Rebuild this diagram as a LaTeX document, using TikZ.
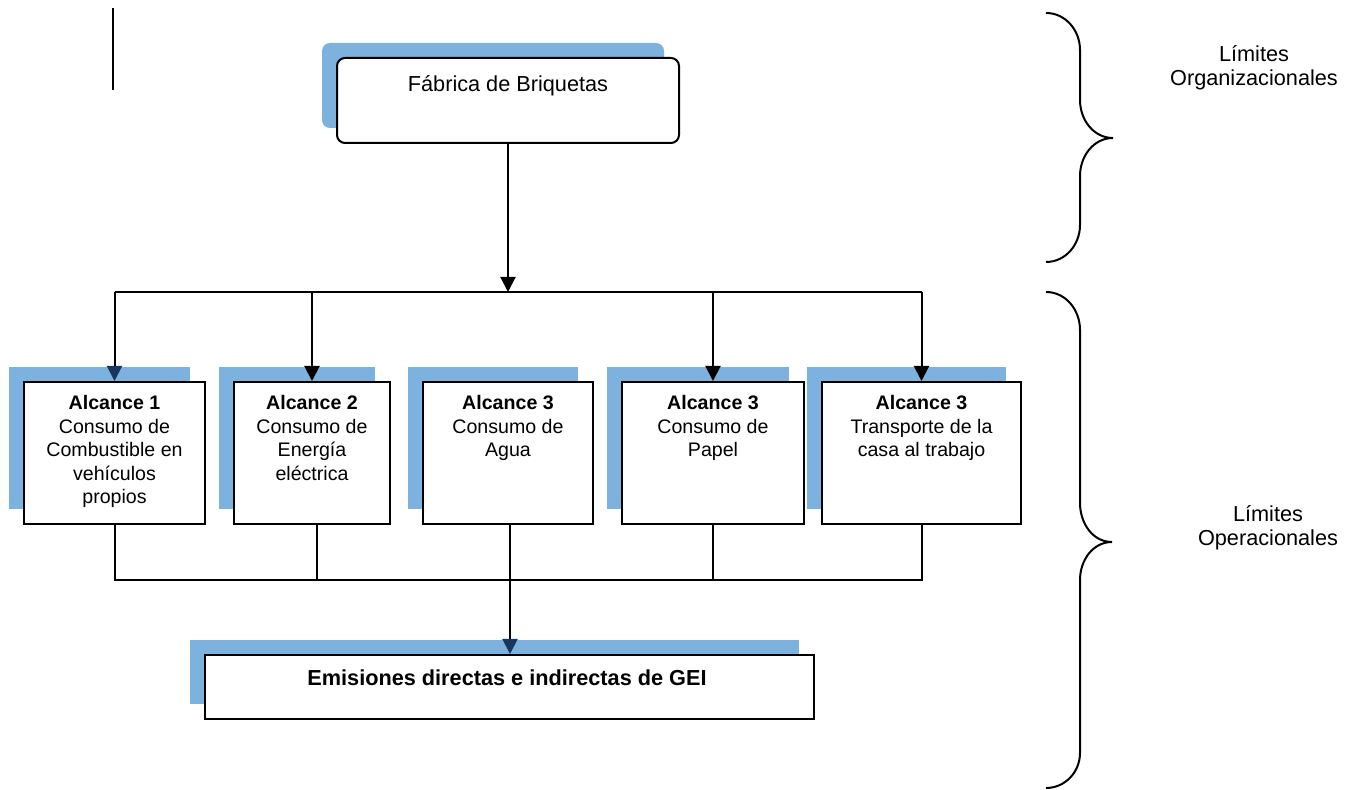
\documentclass[tikz,border=0pt]{standalone}
\usepackage{fontspec}
\setmainfont{Liberation Sans}
\usepackage{color}
\definecolor{shadowblue}{RGB}{125,178,222}
\definecolor{navyhead}{RGB}{23,55,94}
\usepackage{tikz}
\usetikzlibrary{positioning}
\usetikzlibrary{shadows}
\usetikzlibrary{arrows.meta}
\newcommand{\scopeheight}{71pt}
\newcommand{\bigfont}{\fontsize{10.85}{12}\selectfont}
\newcommand{\smallfont}{\fontsize{9.8}{11.75}\selectfont}
\tikzset{
    wire/.style={line width=1pt},
    flow/.style={wire, -{Triangle[length=7.5pt, width=7.5pt]}},
    navyflow/.style={wire, -{Triangle[length=7.5pt, width=7.5pt, color=navyhead]}},
    bluebox/.style={draw, rectangle, line width=1pt, fill=white, inner sep=0pt,
        drop shadow={shadow xshift=-7.5pt, shadow yshift=7.5pt, fill=shadowblue, opacity=1}},
    scopebox/.style={bluebox, minimum height=\scopeheight},
    boxtext/.style={anchor=north, align=center, inner sep=0pt, font=\smallfont},
    bigtext/.style={align=center, inner sep=0pt, font=\bigfont},
    brace/.style={line width=1pt}
}

\begin{document}
\begin{tikzpicture}[x=0.5pt, y=-0.5pt]
    \useasboundingbox (0,0) rectangle (1356,790);

    % stray rule at the top left
    \draw[line width=1.2pt] (113,8) -- (113,90);

    % plant
    \node[bluebox, rounded corners=4pt, minimum width=171pt, minimum height=42.5pt] (fab) at (508,100.5) {};
    \node[bigtext, anchor=base] (fabtext) at (508,92) {Fábrica de Briquetas};

    % scopes
    \node[scopebox, minimum width=90.5pt] (b1) at (114.5,453) {};
    \node[scopebox, minimum width=78pt] (b2) at (312,453) {};
    \node[scopebox, minimum width=85pt] (b3) at (508,453) {};
    \node[scopebox, minimum width=91pt] (b4) at (713,453) {};
    \node[scopebox, minimum width=99.5pt] (b5) at (921.5,453) {};

    \node[boxtext, below=7pt of b1.north] (b1text) {\textbf{Alcance 1}\\Consumo de\\Combustible en\\vehículos\\propios};
    \node[boxtext, below=7pt of b2.north] (b2text) {\textbf{Alcance 2}\\Consumo de\\Energía\\eléctrica};
    \node[boxtext, below=7pt of b3.north] (b3text) {\textbf{Alcance 3}\\Consumo de\\Agua};
    \node[boxtext, below=7pt of b4.north] (b4text) {\textbf{Alcance 3}\\Consumo de\\Papel};
    \node[boxtext, below=7pt of b5.north] (b5text) {\textbf{Alcance 3}\\Transporte de la\\casa al trabajo};

    % emissions
    \node[bluebox, minimum width=304.5pt, minimum height=32pt] (gei) at (509.5,687) {};
    \node[bigtext, anchor=base] (geitext) at (507,686) {\textbf{Emisiones directas e indirectas de GEI}};

    % limits
    \node[bigtext, anchor=north] (orglim) at (1254,45) {Límites\\Organizacionales};
    \node[bigtext, anchor=north] (oplim) at (1268,505) {Límites\\Operacionales};

    \draw[brace] (1046,13) to[out=0, in=90] (1080,50) -- (1080,100)
        to[out=-90, in=180] (1113,138) to[out=180, in=90] (1080,176)
        -- (1080,225) to[out=-90, in=0] (1046,262);
    \draw[brace] (1046,292) to[out=0, in=90] (1080,330) -- (1080,503)
        to[out=-90, in=180] (1112,542) to[out=180, in=90] (1080,580)
        -- (1080,753) to[out=-90, in=0] (1046,788);

    % connectors
    \coordinate (split) at (508,292);
    \coordinate (join) at (510,580);

    \draw[flow] (fab.south) -- (split);
    \draw[wire] (b1.north |- split) -- (b5.north |- split);
    \draw[navyflow] (b1.north |- split) -- (b1.north);
    \foreach \b in {b2,b4,b5}
        \draw[flow] (\b.north |- split) -- (\b.north);

    \draw[wire] (b1.south) -- (b1.south |- join) -- (b5.south |- join) -- (b5.south);
    \draw[wire] ([xshift=2.5pt]b2.south) -- ([xshift=2.5pt]b2.south |- join);
    \draw[wire] (b3.south -| join) -- (join);
    \draw[wire] (b4.south) -- (b4.south |- join);
    \draw[navyflow] (join) -- (join |- gei.north);

\end{tikzpicture}
\end{document}
